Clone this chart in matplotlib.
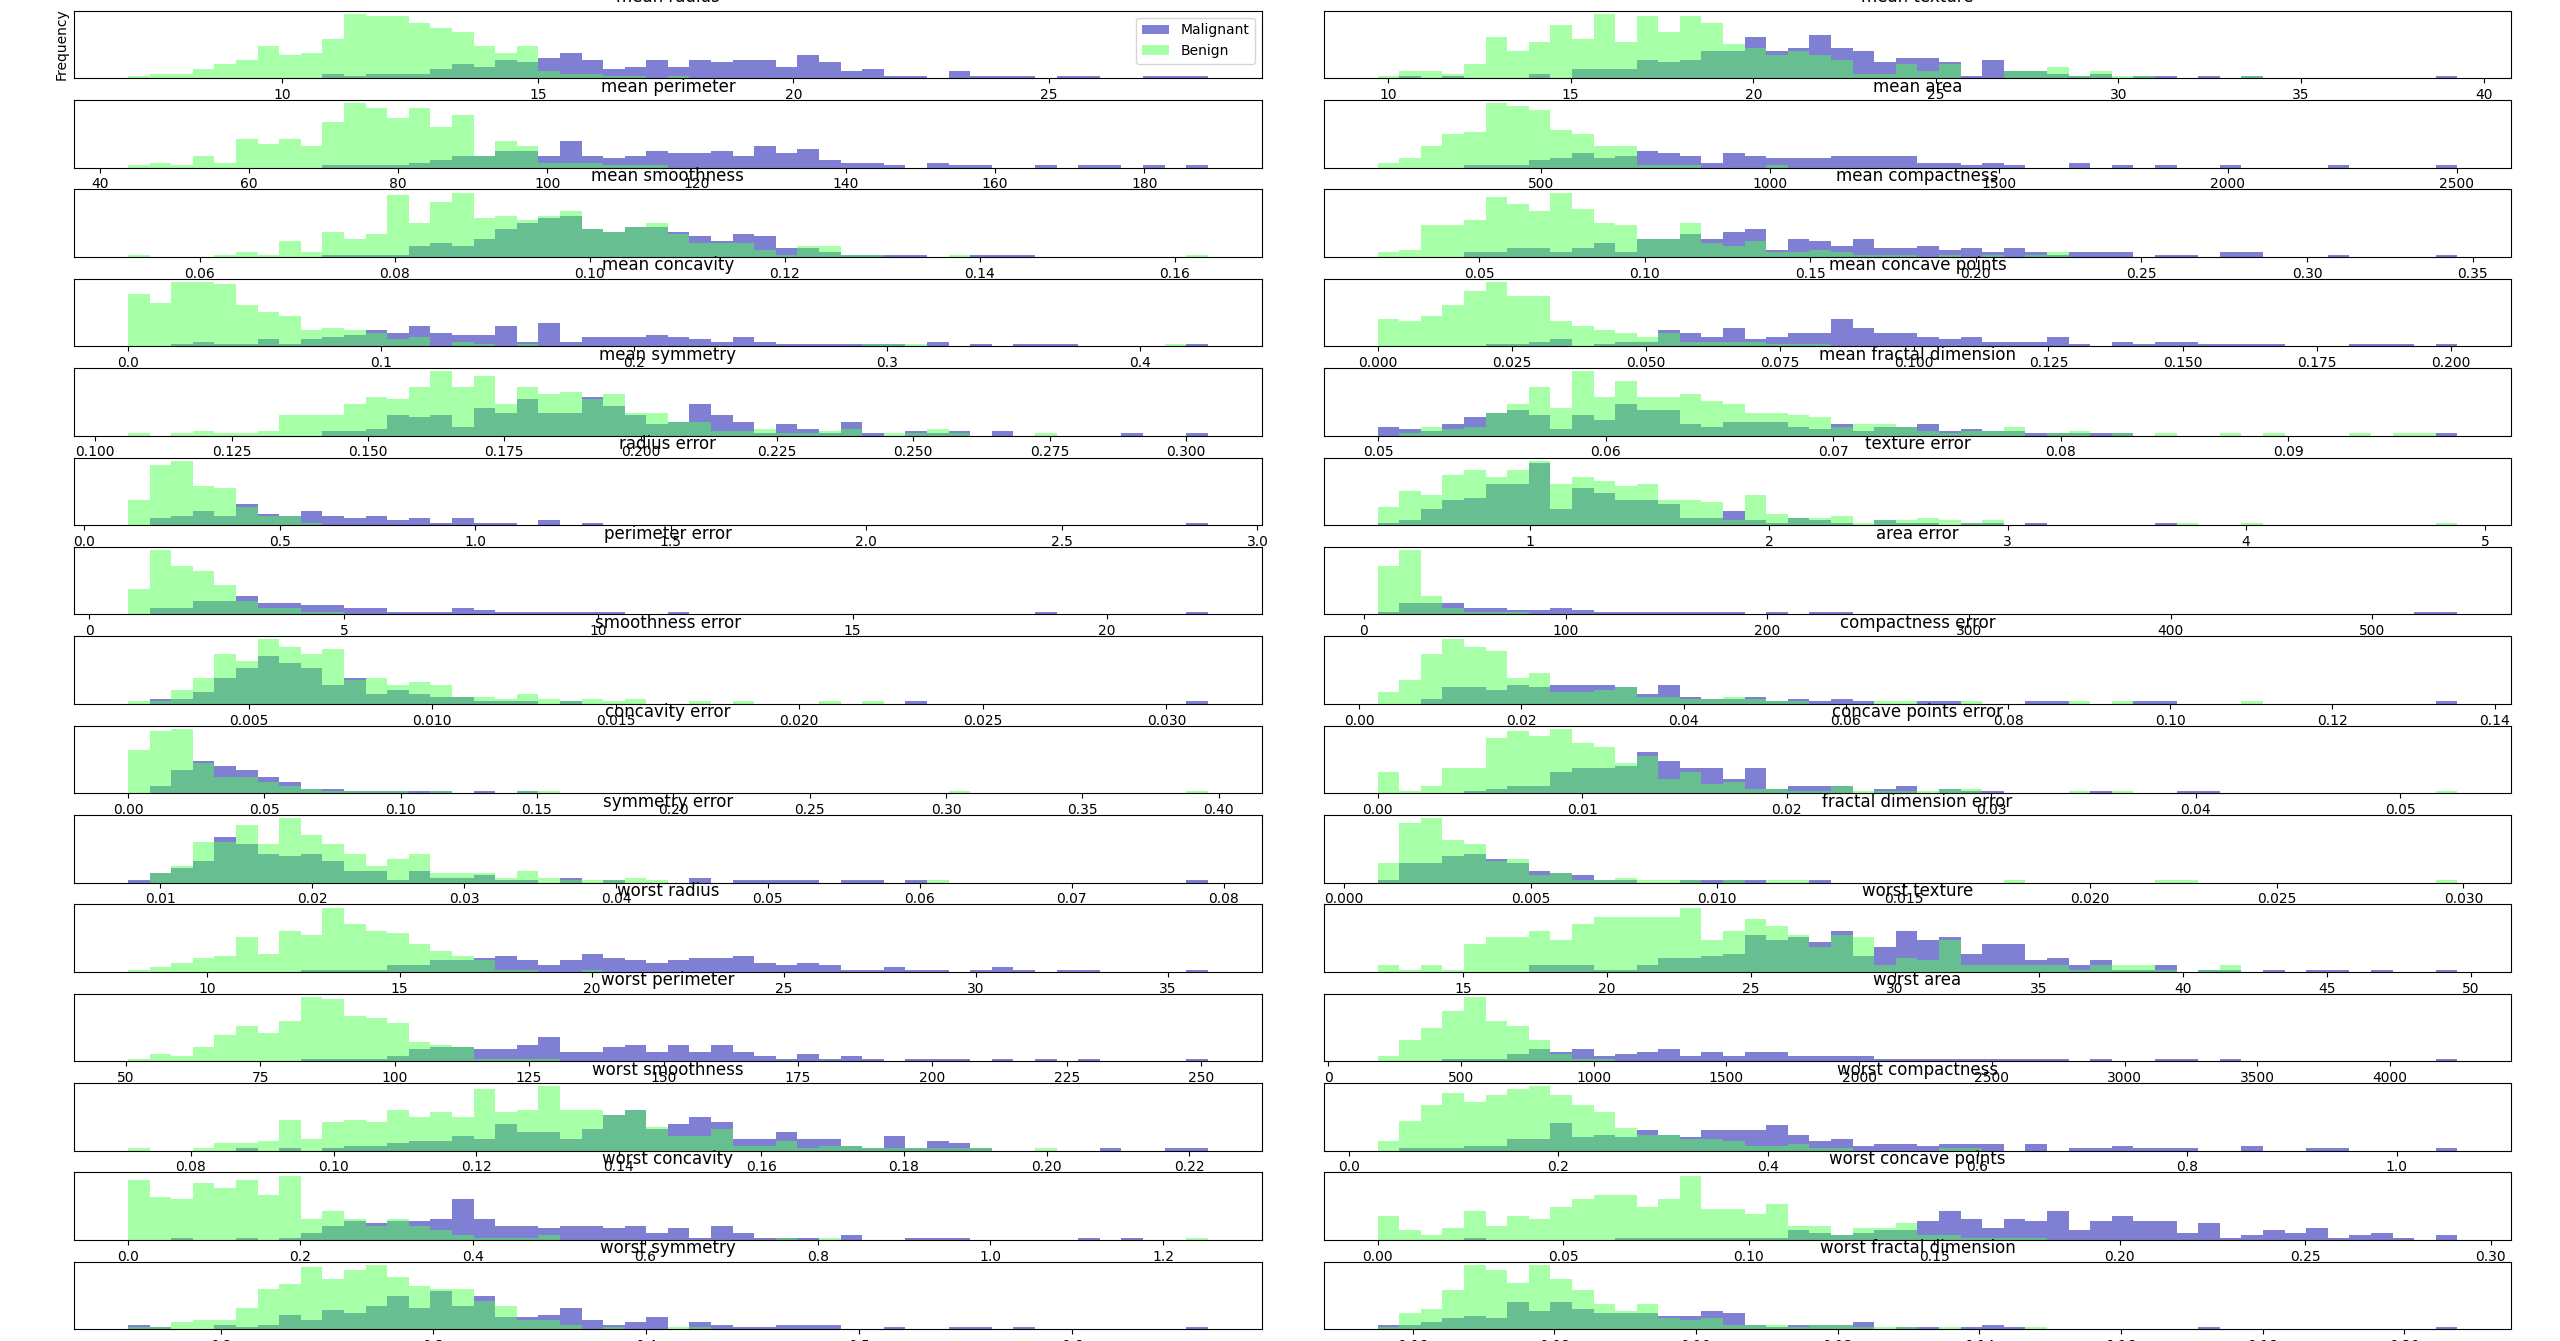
import numpy as np
import matplotlib
matplotlib.use("Agg")
import matplotlib.pyplot as plt

feature_names = [
    "mean radius", "mean texture", "mean perimeter", "mean area",
    "mean smoothness", "mean compactness", "mean concavity", "mean concave points",
    "mean symmetry", "mean fractal dimension", "radius error", "texture error",
    "perimeter error", "area error", "smoothness error", "compactness error",
    "concavity error", "concave points error", "symmetry error", "fractal dimension error",
    "worst radius", "worst texture", "worst perimeter", "worst area",
    "worst smoothness", "worst compactness", "worst concavity", "worst concave points",
    "worst symmetry", "worst fractal dimension",
]

feature_min = [6.981, 9.71, 43.79, 143.5, 0.05263, 0.01938, 0.0, 0.0, 0.106, 0.04996,
               0.1115, 0.3602, 0.757, 6.802, 0.001713, 0.002252, 0.0, 0.0, 0.007882, 0.0008948,
               7.93, 12.02, 50.41, 185.2, 0.07117, 0.02729, 0.0, 0.0, 0.1565, 0.05504]
feature_max = [28.11, 39.28, 188.5, 2501.0, 0.1634, 0.3454, 0.4268, 0.2012, 0.304, 0.09744,
               2.873, 4.885, 21.98, 542.2, 0.03113, 0.1354, 0.396, 0.05279, 0.07895, 0.02984,
               36.04, 49.54, 251.2, 4254.0, 0.2226, 1.058, 1.252, 0.291, 0.6638, 0.2075]

Z = 0
# ---- histogram counts per bin (50 bins) ----
mean_radius_mal = [0,0,0,0,0,0,0,0,0,2, 1,2,2,2,4,6,5,8,7,9, 11,8,4,5,8,5,8,7,8,8, 5,10,7,3,4,1,1,0,3,1, 1,1,0,1,1,0,0,1,1,1]
mean_radius_ben = [1,2,2,4,6,8,14,10,11,17, 28,27,27,24,22,20,14,11,14,3, 2,2,1,1,0,1,0,0,0,0, 0,0,0,0,0,0,0,0,0,0, 0,0,0,0,0,0,0,0,0,0]

mean_texture_mal = [0,1,0,1,0,0,0,2,0,4, 4,4,8,7,8,12,12,18,12,13, 19,13,12,7,9,9,7,1,8,3, 3,2,1,2,0,1,1,0,1,0, 1,0,0,0,0,0,0,0,0,1]
mean_texture_ben = [1,3,3,2,6,18,12,16,23,17, 28,16,27,20,27,24,15,13,10,12, 10,8,2,2,6,3,6,0,0,3, 3,5,1,3,1,1,0,0,0,0, 1,0,0,0,0,0,0,0,0,0]

mean_perimeter_mal = [0,0,0,0,0,0,0,0,0,1, 1,1,1,2,3,5,5,7,7,5, 11,5,4,5,7,6,6,7,5,9, 6,8,3,2,2,1,0,2,1,1, 0,0,1,0,1,1,0,1,0,1]
mean_perimeter_ben = [1,2,1,5,2,12,10,12,9,19, 27,25,21,25,17,22,5,11,9,2, 2,2,1,1,1,0,0,0,0,0, 0,0,0,0,0,0,0,0,0,0, 0,0,0,0,0,0,0,0,0,0]

mean_area_mal = [0,0,0,0,1,1,1,3,4,6, 4,5,7,6,5,2,6,5,4,4, 4,5,5,5,5,2,2,1,2,1, 0,0,2,0,1,0,1,0,0,1, 0,0,0,0,1,0,0,0,0,1]
mean_area_ben = [2,4,9,14,15,27,26,24,16,14, 9,9,1,1,1,0,0,0,1,0, 0,0,0,0,0,0,0,0,0,0, 0,0,0,0,0,0,0,0,0,0, 0,0,0,0,0,0,0,0,0,0]

mean_smoothness_mal = [0,0,0,0,0,0,0,0,0,1, 1,1,1,5,6,5,8,12,15,17, 18,12,11,13,13,11,9,7,10,9, 4,4,2,1,1,1,1,0,0,1, 1,1,0,0,0,0,0,0,0,0]
mean_smoothness_ben = [1,0,0,0,1,2,1,7,2,11, 8,10,27,15,24,28,17,18,16,18, 20,12,11,13,15,10,6,6,6,3, 1,5,5,1,1,0,0,0,1,0, 0,0,0,0,0,0,0,0,0,1]

mean_compactness_mal = [0,0,0,0,2,2,4,4,2,4, 6,2,8,8,10,8,11,12,3,8, 7,5,8,4,4,5,3,4,2,4, 2,1,2,2,2,0,1,1,0,2, 2,0,0,0,1,0,0,0,0,1]
mean_compactness_ben = [2,3,14,14,16,26,23,20,28,21, 15,14,8,8,15,6,5,7,2,2, 3,2,1,1,1,0,1,0,1,0, 1,2,0,0,0,0,0,0,0,0, 0,0,0,0,0,0,0,0,0,0]

mean_concavity_mal = [0,0,1,2,1,1,3,1,3,4, 5,7,6,9,6,5,5,9,2,10, 2,4,4,4,5,4,3,2,4,2, 1,1,1,1,1,1,0,2,0,1, 0,1,1,1,0,0,0,0,0,1]
mean_concavity_ben = [23,19,28,28,27,18,15,13,7,8, 7,6,3,4,0,2,1,0,1,0, 0,0,0,0,0,0,0,0,0,0, 0,0,0,0,1,1,1,0,0,0, 0,0,0,0,0,0,0,0,1,0]

mean_concave_points_mal = [0,0,0,0,0,1,1,2,3,0, 1,2,2,7,6,4,8,3,4,6, 6,12,8,6,6,4,3,4,2,2, 2,4,1,0,2,1,2,2,1,1, 1,1,0,0,0,1,1,1,0,1]
mean_concave_points_ben = [12,11,13,18,24,28,22,22,11,9, 7,6,4,6,2,2,2,2,1,1, 1,0,0,0,0,0,0,0,0,0, 0,0,0,0,0,0,0,0,0,0, 0,0,0,0,0,0,0,0,0,0]

mean_symmetry_mal = [0,0,0,0,0,0,0,0,0,2, 2,3,9,8,9,4,12,10,16,10, 10,17,13,9,5,6,14,9,6,1, 5,3,1,6,1,0,2,1,2,0, 2,0,0,0,0,0,1,0,0,1]
mean_symmetry_ben = [1,0,1,2,1,1,2,9,9,9, 14,17,16,21,28,21,26,14,21,18, 19,16,18,10,10,6,6,2,2,3, 1,1,2,3,0,1,1,3,1,0, 0,0,1,0,0,0,0,0,0,0]

mean_fractal_dimension_mal = [4,3,2,5,8,10,11,9,3,9, 7,14,11,11,5,4,6,6,6,4, 3,5,2,4,4,5,2,3,2,2, 1,1,1,1,1,0,0,0,0,0, 0,0,0,0,0,0,0,0,0,1]
mean_fractal_dimension_ben = [0,1,4,3,4,10,14,21,12,28, 17,24,17,17,18,15,14,10,10,9, 8,4,5,5,4,2,1,2,2,4, 0,1,2,0,1,0,1,0,0,1, 0,1,0,0,0,1,0,1,1,0]

radius_error_mal = [0,3,4,6,4,9,5,4,6,4, 3,4,2,3,1,3,1,1,0,2, 0,1,0,0,0,0,0,0,0,0, 0,0,0,0,0,0,0,0,0,0, 0,0,0,0,0,0,0,0,0,1]
radius_error_ben = [11,26,28,17,16,8,4,4,1,0, 0,0,0,0,0,0,0,0,0,0, 0,0,0,0,0,0,0,0,0,0, 0,0,0,0,0,0,0,0,0,0, 0,0,0,0,0,0,0,0,0,0]

texture_error_mal = [1,2,7,11,12,18,18,27,7,16, 14,11,11,9,3,3,6,2,1,3, 2,1,0,2,1,1,0,1,1,0, 1,0,0,0,0,0,1,0,0,0, 0,0,0,0,0,0,0,0,0,0]
texture_error_ben = [8,15,13,22,24,21,24,28,18,21, 19,17,18,11,11,10,2,13,5,3, 3,4,1,2,2,3,2,1,2,0, 0,0,0,0,0,0,0,1,0,0, 1,0,0,0,0,0,0,0,0,1]

perimeter_error_mal = [0,3,3,6,6,8,5,5,4,4, 3,3,1,1,1,3,2,1,1,1, 1,1,1,0,0,1,0,0,0,0, 0,0,0,0,0,0,0,0,0,0, 0,0,1,0,0,0,0,0,0,1]
perimeter_error_ben = [11,28,21,19,13,6,3,3,1,1, 0,0,0,0,0,0,0,0,0,0, 0,0,0,0,0,0,0,0,0,0, 0,0,0,0,0,0,0,0,0,0, 0,0,0,0,0,0,0,0,0,0]

area_error_mal = [1,5,5,5,3,3,2,2,3,2, 1,1,1,1,1,1,1,0,1,0, 1,1,0,0,0,0,0,0,0,0, 0,0,0,0,0,0,0,0,0,0, 0,0,0,0,0,0,0,0,1,1]
area_error_ben = [21,28,8,3,1,1,1,0,0,0, 0,0,0,0,0,0,0,0,0,0, 0,0,0,0,0,0,0,0,0,0, 0,0,0,0,0,0,0,0,0,0, 0,0,0,0,0,0,0,0,0,0]

smoothness_error_mal = [0,2,2,5,11,15,20,17,15,8, 11,4,6,4,3,3,1,1,1,0, 1,0,0,0,0,0,0,0,0,0, 0,0,0,0,0,0,1,0,0,0, 0,0,0,0,0,0,0,0,0,1]
smoothness_error_ben = [1,1,6,11,21,18,27,24,21,23, 10,11,8,9,8,3,3,2,4,2, 1,2,1,2,0,0,1,0,1,0, 0,0,1,0,1,0,0,0,0,0, 0,0,0,0,0,0,0,0,0,0]

compactness_error_mal = [0,0,2,7,7,6,8,7,8,8, 8,7,4,8,3,2,2,3,1,2, 1,2,1,0,0,1,1,0,0,0, 1,1,0,0,0,1,1,0,0,0, 0,0,0,0,0,0,0,0,0,1]
compactness_error_ben = [5,10,21,27,24,22,11,13,5,5, 6,7,3,3,2,2,3,2,1,1, 0,0,0,1,1,0,0,1,0,0, 0,0,1,0,1,0,0,0,0,0, 1,0,0,0,0,0,0,0,0,0]

concavity_error_mal = [0,3,10,14,12,10,7,5,2,2, 1,1,1,1,1,0,1,0,1,0, 0,0,0,0,0,0,0,0,0,0, 0,0,0,0,0,0,0,0,0,0, 0,0,0,0,0,0,0,0,0,0]
concavity_error_ben = [19,27,28,13,7,7,5,3,2,1, 1,1,1,0,1,0,0,0,1,1, 0,0,0,0,0,0,0,0,0,0, 0,0,0,0,0,0,0,0,1,0, 0,0,0,0,0,0,0,0,0,1]

concave_points_error_mal = [0,0,0,0,1,2,3,3,9,11, 11,12,18,14,11,11,6,11,2,3, 3,3,0,2,3,0,2,1,1,0, 0,0,0,1,0,0,0,1,1,0, 0,0,0,0,0,0,0,0,0,0]
concave_points_error_ben = [9,1,3,11,11,24,27,25,28,22, 20,13,16,6,9,4,5,2,2,1, 1,3,1,1,1,1,2,2,0,0, 0,0,1,0,1,0,0,0,0,0, 0,0,0,0,0,0,0,0,0,1]

symmetry_error_mal = [1,4,6,9,19,16,12,11,12,9, 5,5,1,5,2,2,3,1,1,0, 2,0,1,0,0,0,2,0,1,1, 1,1,0,1,1,0,1,0,0,0, 0,0,0,0,0,0,0,0,0,1]
symmetry_error_ben = [0,4,7,17,17,24,16,27,20,16, 12,7,10,12,4,4,4,2,5,2, 1,1,1,2,1,0,0,0,0,0, 0,0,0,0,0,0,0,1,0,0, 0,0,0,0,0,0,0,0,0,0]

fractal_dimension_error_mal = [1,8,8,11,12,10,8,5,4,3, 1,1,0,0,1,1,1,1,0,0, 1,0,0,0,0,0,0,0,0,0, 0,0,0,0,0,0,0,0,0,0, 0,0,0,0,0,0,0,0,0,0]
fractal_dimension_error_ben = [8,25,27,18,16,9,10,3,4,1, 1,2,1,1,1,0,1,0,1,1, 0,0,0,0,0,0,0,0,0,1, 0,0,0,0,0,0,1,1,0,0, 0,0,0,0,0,0,0,0,0,1]

worst_radius_mal = [0,0,0,0,0,0,0,0,1,1, 1,1,3,3,5,5,6,7,5,3, 5,8,6,5,4,5,6,6,7,4, 3,4,3,1,1,2,1,1,0,1, 2,1,0,1,1,0,0,0,0,1]
worst_radius_ben = [1,2,4,6,7,15,8,18,16,28, 21,18,17,12,9,7,5,1,1,0, 0,1,0,0,0,0,0,0,0,0, 0,0,0,0,0,0,0,0,0,0, 0,0,0,0,0,0,0,0,0,0]

worst_texture_mal = [0,0,0,0,0,0,0,3,3,3, 1,1,3,6,6,7,8,16,14,15, 13,18,7,11,18,14,15,8,12,12, 5,6,3,5,1,1,3,0,1,1, 0,1,0,1,1,0,1,0,0,1]
worst_texture_ben = [3,1,3,1,12,15,15,18,14,21, 24,24,24,24,28,14,18,23,20,16, 11,16,15,3,6,5,14,3,3,3, 3,3,1,3,3,3,1,0,1,3, 0,0,0,0,0,0,0,0,0,0]

worst_perimeter_mal = [0,0,0,0,0,0,0,0,1,1, 1,1,2,5,6,6,5,5,7,10, 4,4,6,7,4,7,4,7,4,2, 1,3,1,2,1,0,1,1,1,0, 1,0,1,0,1,0,0,0,0,1]
worst_perimeter_ben = [1,3,2,6,11,15,12,17,27,26, 19,18,16,8,7,6,1,1,1,1, 0,0,0,0,0,0,0,0,0,0, 0,0,0,0,0,0,0,0,0,0, 0,0,0,0,0,0,0,0,0,0]

worst_area_mal = [0,0,0,1,1,1,3,5,4,5, 2,3,4,5,2,4,2,4,4,2, 2,2,2,1,1,1,1,1,1,1, 1,1,0,1,0,0,1,1,0,1, 0,0,0,0,0,0,0,0,0,1]
worst_area_ben = [2,9,14,21,27,17,15,9,3,1, 1,0,0,0,0,0,0,0,0,0, 0,0,0,0,0,0,0,0,0,0, 0,0,0,0,0,0,0,0,0,0, 0,0,0,0,0,0,0,0,0,0]

worst_smoothness_mal = [0,0,0,0,0,1,0,1,0,1, 2,2,3,4,4,6,5,11,8,8, 5,9,15,17,9,11,14,12,5,5, 8,5,5,2,1,6,1,4,3,1, 0,0,0,0,0,1,0,0,1,1]
worst_smoothness_ben = [1,0,0,1,3,3,4,13,5,12, 13,12,17,14,16,14,26,16,17,27, 17,17,15,17,10,6,6,9,2,2, 4,1,2,2,1,1,1,1,1,1, 0,0,1,0,0,0,0,0,0,0]

worst_compactness_mal = [0,1,1,1,2,2,5,5,12,6, 7,6,9,7,6,9,9,9,11,7, 4,5,2,3,3,2,3,3,3,0, 3,0,1,1,2,1,1,1,0,0, 2,0,0,1,1,0,0,0,0,1]
worst_compactness_ben = [4,13,20,25,21,24,27,28,24,20, 17,10,7,7,5,5,4,2,2,3, 1,1,0,0,0,0,1,1,0,0, 0,0,0,0,0,0,0,0,0,0, 0,0,0,0,0,0,0,0,0,0]

worst_concavity_mal = [0,0,1,0,0,1,0,1,3,6, 8,7,8,8,9,17,9,6,6,5, 6,6,5,6,3,5,1,6,3,1, 1,1,0,2,0,0,1,1,1,0, 0,0,0,0,1,0,1,0,0,0]
worst_concavity_ben = [25,18,17,24,22,25,19,27,9,12, 9,6,9,6,4,2,1,1,1,2, 0,0,0,0,0,0,0,0,0,0, 1,0,1,0,0,0,0,0,0,0, 0,0,0,0,0,0,0,0,0,1]

worst_concave_points_mal = [0,0,0,0,1,0,0,0,0,0, 0,1,1,1,1,1,1,1,1,4, 3,2,3,4,4,8,12,9,5,9, 8,12,4,8,10,8,8,3,7,1, 2,4,3,5,1,2,3,1,0,2]
worst_concave_points_ben = [10,4,2,5,12,6,10,9,14,17, 19,19,14,17,27,13,13,11,15,6, 6,2,5,5,7,2,2,1,1,1, 1,0,0,0,0,0,0,0,0,0, 0,0,0,0,0,0,0,0,0,0]

worst_symmetry_mal = [2,1,0,0,2,1,2,6,4,8, 7,10,14,9,16,10,14,5,5,6, 9,4,2,3,5,0,3,2,1,1, 2,2,2,0,0,1,0,0,1,1, 0,1,0,0,0,0,0,0,0,1]
worst_symmetry_ben = [1,1,3,4,4,9,17,19,26,21, 25,27,22,18,17,17,12,10,4,4, 2,0,1,0,0,1,1,0,0,0, 0,0,0,0,0,0,0,0,0,0, 0,0,0,0,0,0,0,0,0,0]

worst_fractal_dimension_mal = [2,2,3,5,6,5,12,8,12,9, 7,7,7,6,6,8,7,2,1,2, 2,2,3,0,1,1,0,1,2,1, 0,0,0,0,0,0,0,0,1,0, 0,0,0,0,0,0,0,0,0,1]
worst_fractal_dimension_ben = [1,7,9,17,28,26,20,28,22,17, 11,8,11,5,4,5,2,2,2,1, 2,2,1,1,1,0,1,0,0,0, 1,0,0,0,0,0,0,0,0,0, 0,0,0,0,0,0,0,0,0,0]

malignant_counts = [
    mean_radius_mal, mean_texture_mal, mean_perimeter_mal, mean_area_mal,
    mean_smoothness_mal, mean_compactness_mal, mean_concavity_mal, mean_concave_points_mal,
    mean_symmetry_mal, mean_fractal_dimension_mal, radius_error_mal, texture_error_mal,
    perimeter_error_mal, area_error_mal, smoothness_error_mal, compactness_error_mal,
    concavity_error_mal, concave_points_error_mal, symmetry_error_mal, fractal_dimension_error_mal,
    worst_radius_mal, worst_texture_mal, worst_perimeter_mal, worst_area_mal,
    worst_smoothness_mal, worst_compactness_mal, worst_concavity_mal, worst_concave_points_mal,
    worst_symmetry_mal, worst_fractal_dimension_mal,
]
benign_counts = [
    mean_radius_ben, mean_texture_ben, mean_perimeter_ben, mean_area_ben,
    mean_smoothness_ben, mean_compactness_ben, mean_concavity_ben, mean_concave_points_ben,
    mean_symmetry_ben, mean_fractal_dimension_ben, radius_error_ben, texture_error_ben,
    perimeter_error_ben, area_error_ben, smoothness_error_ben, compactness_error_ben,
    concavity_error_ben, concave_points_error_ben, symmetry_error_ben, fractal_dimension_error_ben,
    worst_radius_ben, worst_texture_ben, worst_perimeter_ben, worst_area_ben,
    worst_smoothness_ben, worst_compactness_ben, worst_concavity_ben, worst_concave_points_ben,
    worst_symmetry_ben, worst_fractal_dimension_ben,
]

for name, m, b in zip(feature_names, malignant_counts, benign_counts):
    assert len(m) == 50 and len(b) == 50, (name, len(m), len(b))

fig, axes = plt.subplots(15, 2, figsize=(25.6, 13.41), dpi=100)
fig.subplots_adjust(left=0.0289, right=0.981, top=0.992, bottom=0.0087,
                    hspace=0.323, wspace=0.052)
ax = axes.ravel()
for i in range(30):
    edges = np.linspace(feature_min[i], feature_max[i], 51)
    centers = (edges[:-1] + edges[1:]) / 2
    ax[i].hist(centers, bins=edges, weights=malignant_counts[i], color="#0000aa", alpha=.5)
    ax[i].hist(centers, bins=edges, weights=benign_counts[i], color="#50ff50", alpha=.5)
    ax[i].set_title(feature_names[i])
    ax[i].set_yticks(())
ax[0].set_ylabel("Frequency")
ax[0].legend(["Malignant", "Benign"], loc="upper right")
fig.savefig("out.png", dpi=100)
